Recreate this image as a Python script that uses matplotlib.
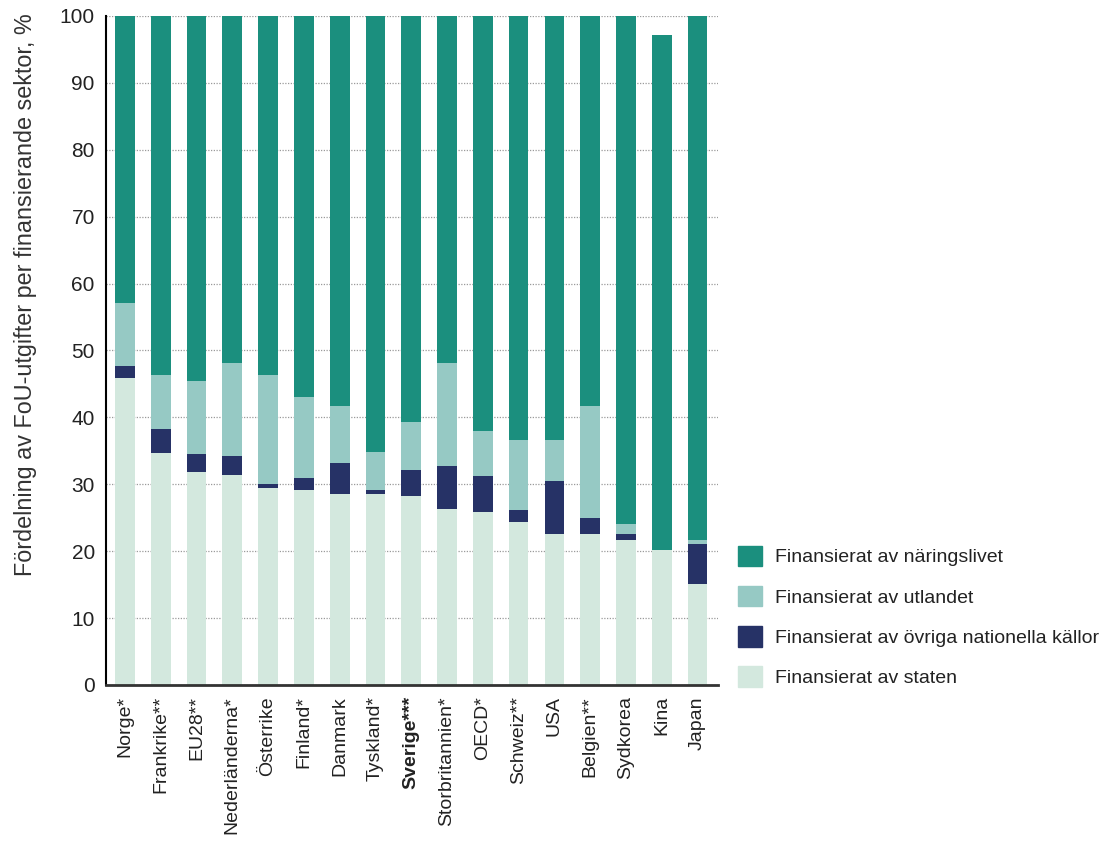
import numpy as np
import matplotlib
matplotlib.use("Agg")
import matplotlib.pyplot as plt
from matplotlib.patches import Patch

plt.rcParams["font.family"] = ["Liberation Sans", "DejaVu Sans"]

countries = ["Norge*", "Frankrike**", "EU28**", "Nederländerna*", "Österrike",
             "Finland*", "Danmark", "Tyskland*", "Sverige***", "Storbritannien*",
             "OECD*", "Schweiz**", "USA", "Belgien**", "Sydkorea", "Kina", "Japan"]

# Shares (%) per financing sector
staten = [45.9, 34.7, 31.9, 31.4, 29.5, 29.1, 28.6, 28.6, 28.2, 26.3,
          25.8, 24.4, 22.6, 22.6, 21.6, 20.2, 15.1]
ovriga = [1.8, 3.6, 2.7, 2.8, 0.5, 1.8, 4.6, 0.5, 4.0, 6.4,
          5.5, 1.8, 7.9, 2.3, 0.9, 0.0, 6.0]
utlandet = [9.4, 8.1, 10.9, 14.0, 16.4, 12.2, 8.5, 5.7, 7.1, 15.5,
            6.7, 10.4, 6.1, 16.8, 1.5, 0.0, 0.5]
naringslivet = [42.9, 53.6, 54.5, 51.8, 53.6, 56.9, 58.3, 65.2, 60.7, 51.8,
                62.0, 63.4, 63.4, 58.3, 76.0, 77.0, 78.4]

c_nar = "#1b8f7e"
c_utl = "#96c9c4"
c_ovr = "#263266"
c_sta = "#d3e8de"

fig = plt.figure(figsize=(11.12, 8.42), dpi=100)
ax = fig.add_axes([0.0953, 0.1865, 0.55, 0.7945])

x = np.arange(len(countries))
w = 0.55
b1 = np.array(staten)
b2 = b1 + np.array(ovriga)
b3 = b2 + np.array(utlandet)
ax.bar(x, staten, w, color=c_sta, zorder=2)
ax.bar(x, ovriga, w, bottom=b1, color=c_ovr, zorder=2)
ax.bar(x, utlandet, w, bottom=b2, color=c_utl, zorder=2)
ax.bar(x, naringslivet, w, bottom=b3, color=c_nar, zorder=2)

ax.set_xlim(-0.53, len(countries) - 0.44)
ax.set_ylim(0, 100)
ax.set_yticks(range(0, 101, 10))
ax.tick_params(axis="y", labelsize=15, length=0, pad=8, colors="#222222")
ax.yaxis.grid(True, linestyle=(0, (1, 1.2)), color="#9a9a9a", linewidth=0.9, zorder=0)
ax.set_axisbelow(True)

ax.set_xticks(x)
ax.set_xticklabels(countries, rotation=90, fontsize=14, color="#222222")
ax.tick_params(axis="x", length=0, pad=8)
for lbl in ax.get_xticklabels():
    if lbl.get_text().startswith("Sverige"):
        lbl.set_fontweight("bold")

for s in ["top", "right"]:
    ax.spines[s].set_visible(False)
ax.spines["left"].set_linewidth(1.5)
ax.spines["bottom"].set_linewidth(2)
ax.spines["bottom"].set_color("#333333")

ax.set_ylabel("Fördelning av FoU-utgifter per finansierande sektor, %", fontsize=16.8,
              color="#333333")
ax.yaxis.set_label_coords(-0.112, 0.583)

handles = [Patch(color=c_nar, label="Finansierat av näringslivet"),
           Patch(color=c_utl, label="Finansierat av utlandet"),
           Patch(color=c_ovr, label="Finansierat av övriga nationella källor"),
           Patch(color=c_sta, label="Finansierat av staten")]
fig.legend(handles=handles, loc="lower left", bbox_to_anchor=(0.648, 0.163),
           frameon=False, fontsize=14, handlelength=1.25, handleheight=1.25,
           labelspacing=1.0, handletextpad=0.65, labelcolor="#222222")

fig.savefig("out.png", dpi=100)
